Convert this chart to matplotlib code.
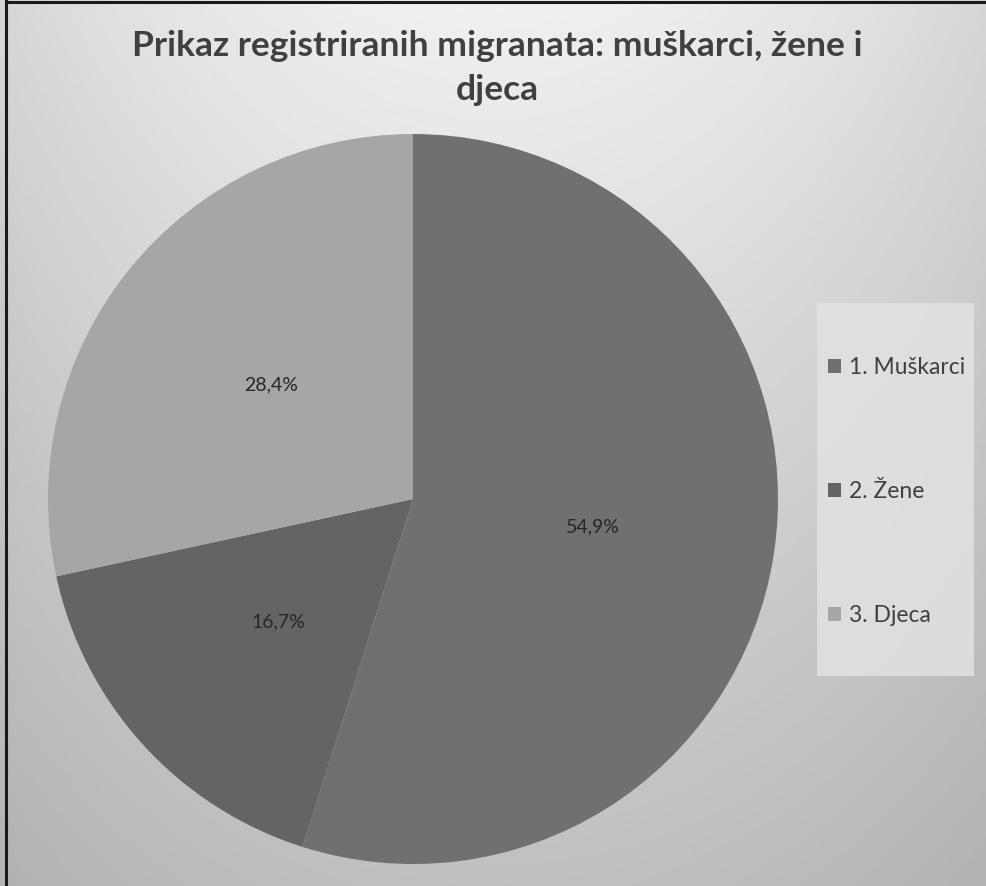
import numpy as np
import matplotlib.pyplot as plt
from matplotlib.patches import Rectangle
from matplotlib.lines import Line2D

# data
categories = ['1. Muškarci', '2. Žene', '3. Djeca']
shares = [54.9, 16.7, 28.4]
colors = ['#707070', '#646464', '#a6a6a6']
title = 'Prikaz registriranih migranata: muškarci, žene i\ndjeca'

plt.rcParams['font.family'] = ['Lato', 'DejaVu Sans']

W, H = 987, 886
fig = plt.figure(figsize=(W / 100, H / 100), dpi=100)

# background gradient
bg = fig.add_axes([0, 0, 1, 1])
yy, xx = np.mgrid[0:1:300j, 0:1:330j]
nx = (xx - 0.5) / 0.5
v = 0.94 - 0.10 * nx**2 * (1 - 0.5 * yy) - 0.19 * yy
bg.imshow(v, cmap='gray', vmin=0, vmax=1, aspect='auto', extent=[0, 1, 1, 0])
bg.set_xlim(0, 1)
bg.set_ylim(1, 0)
bg.axis('off')

# frame lines (left and top)
fig.add_artist(Line2D([6 / W, 6 / W], [0, 1 - 1 / H], color='#1a1a1a', lw=2.2))
fig.add_artist(Line2D([6 / W, 1], [1 - 2 / H, 1 - 2 / H], color='#1a1a1a', lw=2.2))

# pie
cx, cy, r = 413, 499, 365
ax = fig.add_axes([(cx - r) / W, (H - cy - r) / H, 2 * r / W, 2 * r / H])
wedges, texts, autotexts = ax.pie(
    shares, colors=colors, startangle=90, counterclock=False,
    autopct=lambda p: f'{p:.1f}%'.replace('.', ','), pctdistance=0.5,
    wedgeprops=dict(linewidth=0),
    textprops=dict(fontsize=14, color='#262626'))
ax.set_xlim(-1, 1)
ax.set_ylim(-1, 1)
ax.set_aspect('equal')
ax.axis('off')

fig.text(497 / W, 1 - 68 / H, title, ha='center', va='center',
         fontsize=25.5, fontweight='bold', color='#404040', linespacing=1.45)

# legend box
fig.add_artist(Rectangle((817 / W, 1 - 676 / H), 157 / W, 373 / H,
                         transform=fig.transFigure, facecolor='#e2e2e2',
                         edgecolor='none', alpha=0.85))
fig.legend(wedges, categories, loc='upper left',
           bbox_to_anchor=(828 / W, 1 - 357 / H), frameon=False,
           fontsize=16.5, labelcolor='#404040', labelspacing=4.5,
           handlelength=0.58, handleheight=0.58, handletextpad=0.35,
           borderpad=0, borderaxespad=0)

fig.savefig('out.png', dpi=100)
